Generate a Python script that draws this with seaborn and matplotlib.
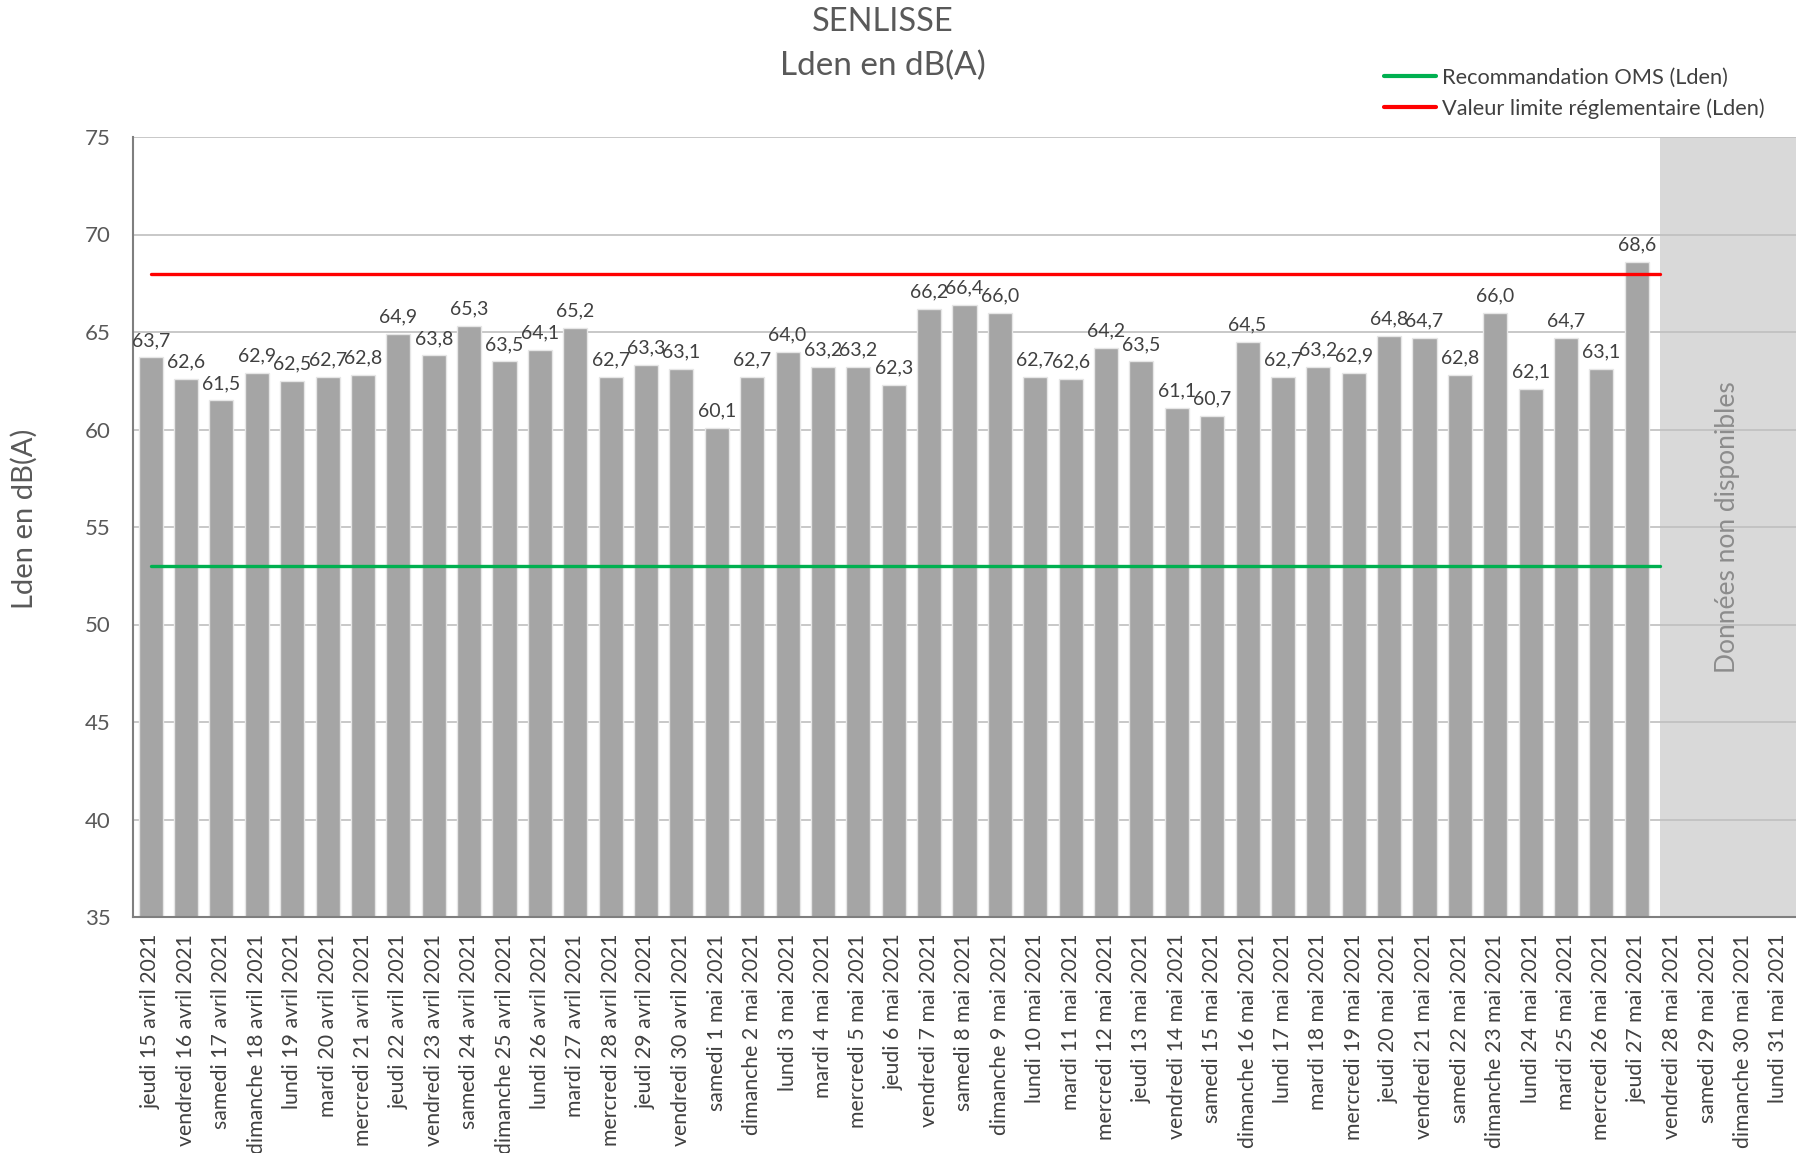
import numpy as np
import pandas as pd
import matplotlib.pyplot as plt
from matplotlib.lines import Line2D
from matplotlib.ticker import FixedLocator
import seaborn as sns

sns.set_theme(style='white')
plt.rcParams['font.family'] = ['Lato', 'DejaVu Sans']

# --- data ---
days = [
    'jeudi 15 avril 2021', 'vendredi 16 avril 2021', 'samedi 17 avril 2021', 'dimanche 18 avril 2021',
    'lundi 19 avril 2021', 'mardi 20 avril 2021', 'mercredi 21 avril 2021', 'jeudi 22 avril 2021',
    'vendredi 23 avril 2021', 'samedi 24 avril 2021', 'dimanche 25 avril 2021', 'lundi 26 avril 2021',
    'mardi 27 avril 2021', 'mercredi 28 avril 2021', 'jeudi 29 avril 2021', 'vendredi 30 avril 2021',
    'samedi 1 mai 2021', 'dimanche 2 mai 2021', 'lundi 3 mai 2021', 'mardi 4 mai 2021',
    'mercredi 5 mai 2021', 'jeudi 6 mai 2021', 'vendredi 7 mai 2021', 'samedi 8 mai 2021',
    'dimanche 9 mai 2021', 'lundi 10 mai 2021', 'mardi 11 mai 2021', 'mercredi 12 mai 2021',
    'jeudi 13 mai 2021', 'vendredi 14 mai 2021', 'samedi 15 mai 2021', 'dimanche 16 mai 2021',
    'lundi 17 mai 2021', 'mardi 18 mai 2021', 'mercredi 19 mai 2021', 'jeudi 20 mai 2021',
    'vendredi 21 mai 2021', 'samedi 22 mai 2021', 'dimanche 23 mai 2021', 'lundi 24 mai 2021',
    'mardi 25 mai 2021', 'mercredi 26 mai 2021', 'jeudi 27 mai 2021',
]
missing_days = ['vendredi 28 mai 2021', 'samedi 29 mai 2021', 'dimanche 30 mai 2021', 'lundi 31 mai 2021']
lden = [
    63.7, 62.6, 61.5, 62.9, 62.5, 62.7, 62.8, 64.9, 63.8, 65.3, 63.5, 64.1, 65.2, 62.7, 63.3, 63.1,
    60.1, 62.7, 64.0, 63.2, 63.2, 62.3, 66.2, 66.4, 66.0, 62.7, 62.6, 64.2, 63.5, 61.1, 60.7, 64.5,
    62.7, 63.2, 62.9, 64.8, 64.7, 62.8, 66.0, 62.1, 64.7, 63.1, 68.6,
]
oms_limit = 53
reg_limit = 68

all_days = days + missing_days
df = pd.DataFrame({'jour': days, 'lden': lden})

fig = plt.figure(figsize=(17.96, 11.53), dpi=100)
ax = fig.add_axes([133 / 1796, 1 - 917 / 1153, 1 - 133 / 1796, (917 - 137) / 1153])

sns.barplot(data=df, x='jour', y='lden', order=all_days, color='#A5A5A5',
            saturation=1, width=0.68, edgecolor='#E6E6E6', linewidth=1, ax=ax)

n_data = len(days)
ax.set_xlim(-0.5, len(all_days) - 0.5)
ax.set_ylim(35, 75)
ax.set_yticks(np.arange(35, 76, 5))

# no-data zone
ax.axvspan(n_data - 0.5 + 0.15, len(all_days) - 0.5, color='#D9D9D9', zorder=0.5, lw=0)
ax.text((n_data - 0.35 + len(all_days) - 0.5) / 2, 55, 'Données non disponibles',
        rotation=90, ha='center', va='center', fontsize=19, color='#8C8C8C')

# thresholds
ax.plot([0, n_data - 0.35], [oms_limit, oms_limit], color='#00B050', lw=2.4, zorder=3)
ax.plot([0, n_data - 0.35], [reg_limit, reg_limit], color='#FF0000', lw=2.4, zorder=3)

# data labels
for i, v in enumerate(lden):
    ax.annotate(f'{v:.1f}'.replace('.', ','), (i, v), xytext=(0, 6), textcoords='offset points',
                ha='center', va='bottom', fontsize=14, color='#404040', zorder=4)

ax.yaxis.grid(True, color='#BFBFBF', lw=1.2)
ax.set_axisbelow(True)
for s in ['top', 'right']:
    ax.spines[s].set_visible(False)
ax.spines['left'].set_color('#7F7F7F')
ax.spines['left'].set_linewidth(1.5)
ax.spines['bottom'].set_color('#7F7F7F')
ax.spines['bottom'].set_linewidth(1.5)

ax.set_xlabel('')
ax.set_ylabel('Lden en dB(A)', fontsize=21, color='#595959')
ax.yaxis.set_label_coords(-0.057, 0.51)
ax.tick_params(axis='y', labelsize=16, labelcolor='#595959', length=8, color='#7F7F7F', width=1.2, pad=8)
ax.set_xticks(range(len(all_days)))
ax.set_xticklabels(all_days, rotation=90, fontsize=15.3, color='#404040')
ax.tick_params(axis='x', length=0, pad=12)
ax.xaxis.set_minor_locator(FixedLocator(np.arange(-0.5, len(all_days), 1)))
ax.tick_params(axis='x', which='minor', length=8, color='#7F7F7F', width=1.2)

fig.text(883 / 1796, 1 - 22 / 1153, 'SENLISSE', ha='center', va='center', fontsize=23.5, color='#595959')
fig.text(883 / 1796, 1 - 66 / 1153, 'Lden en dB(A)', ha='center', va='center', fontsize=24, color='#595959')

handles = [Line2D([], [], color='#00B050', lw=3), Line2D([], [], color='#FF0000', lw=3)]
fig.legend(handles, ['Recommandation OMS (Lden)', 'Valeur limite réglementaire (Lden)'],
           loc='upper left', bbox_to_anchor=(1364 / 1796, 1 - 48 / 1153), frameon=False,
           fontsize=15.7, handlelength=2.4, handletextpad=0.3, labelspacing=0.5,
           labelcolor='#404040')

fig.savefig('out.png', dpi=100)
